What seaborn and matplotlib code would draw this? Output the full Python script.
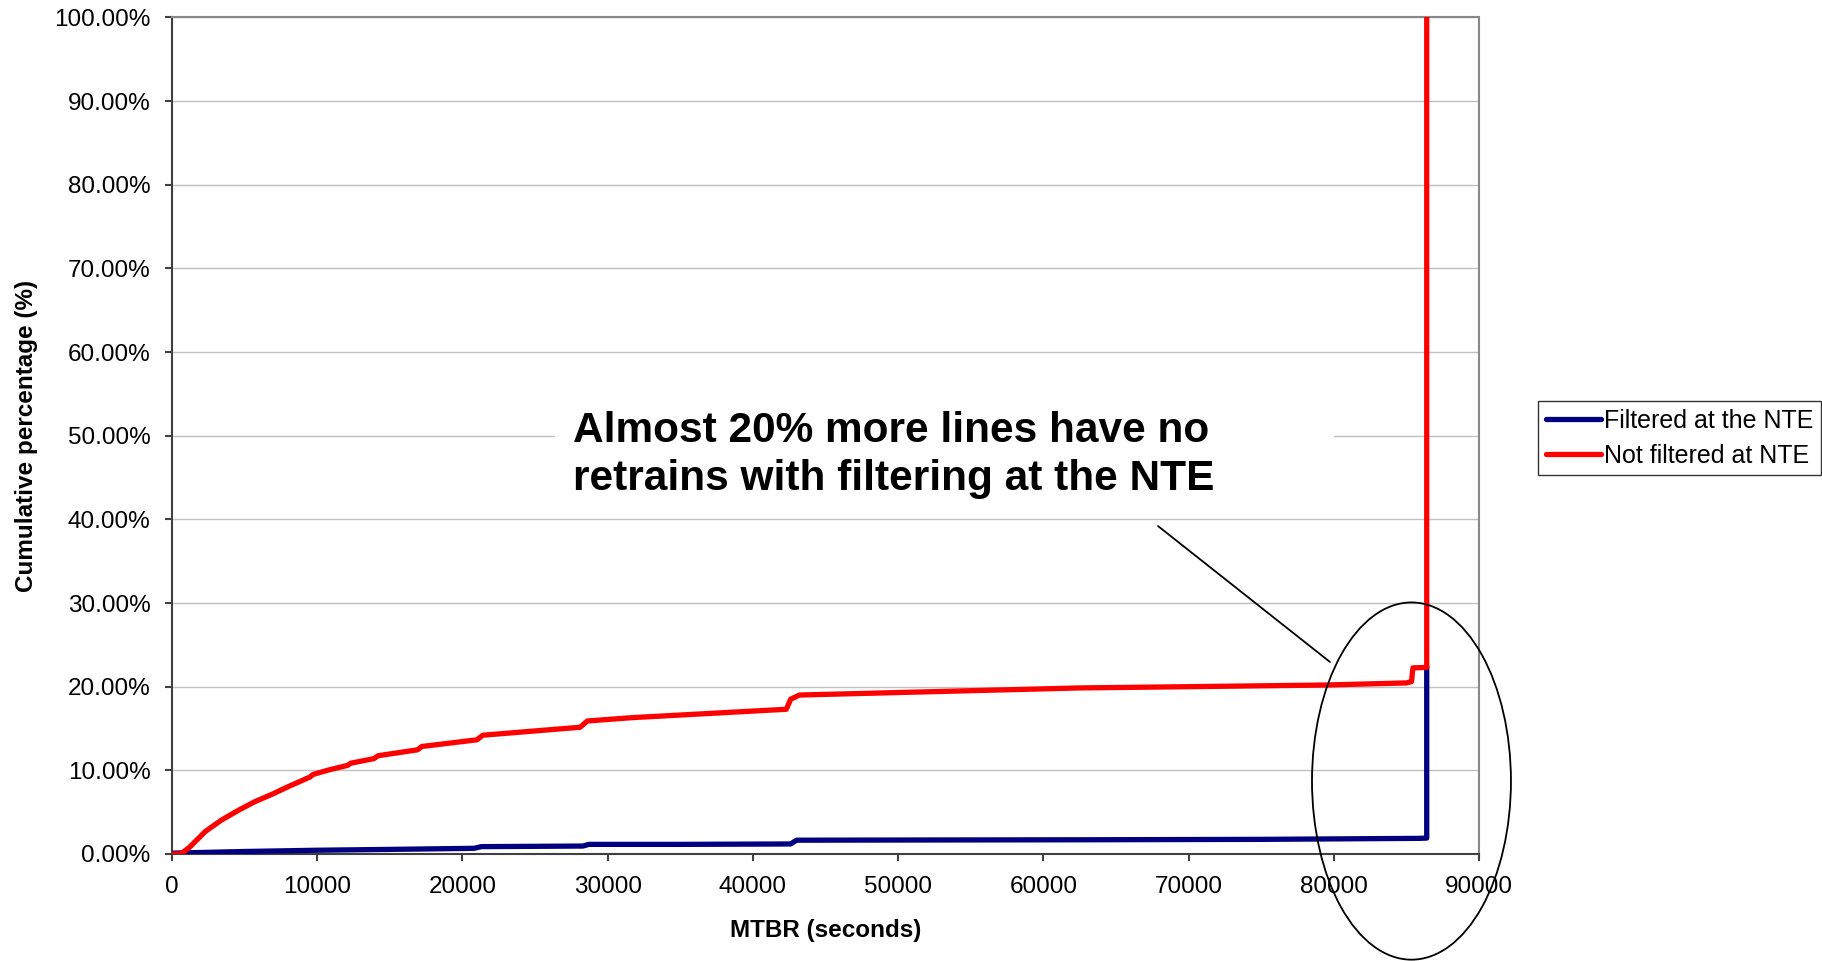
import matplotlib
matplotlib.use("Agg")
import matplotlib.pyplot as plt
from matplotlib.patches import Ellipse, Rectangle
import seaborn as sns
import pandas as pd

# Cumulative distribution of MTBR (seconds) for lines with / without NTE filtering
filtered_x = [0, 5000, 10000, 15000, 20800, 21300, 28300, 28700, 35000, 42600,
              43000, 50000, 62500, 75000, 85900, 86400, 86400]
filtered_pct = [0.1, 0.3, 0.45, 0.55, 0.68, 0.88, 0.95, 1.15, 1.15, 1.2,
                1.65, 1.67, 1.7, 1.75, 1.87, 1.9, 22.4]

unfiltered_x = [0, 600, 1200, 2300, 3400, 4600, 5700, 6900, 8000, 9500, 9700,
                10800, 12100, 12300, 13900, 14200, 16900, 17200, 21000, 21400,
                28100, 28600, 31700, 37000, 42300, 42600, 43200, 50000, 62500,
                70000, 79500, 85000, 85350, 85450, 86400, 86400]
unfiltered_pct = [0, 0, 0.8, 2.7, 4.05, 5.25, 6.25, 7.15, 8.05, 9.2, 9.5,
                  10.05, 10.6, 10.85, 11.4, 11.75, 12.45, 12.85, 13.65, 14.2,
                  15.15, 15.9, 16.3, 16.8, 17.3, 18.5, 19.0, 19.3, 19.85,
                  20.0, 20.2, 20.45, 20.6, 22.25, 22.3, 100]

series_names = ["Filtered at the NTE", "Not filtered at NTE"]
series_colors = ["#000080", "#ff0000"]

x_ticks = [0, 10000, 20000, 30000, 40000, 50000, 60000, 70000, 80000, 90000]
y_ticks = [0, 10, 20, 30, 40, 50, 60, 70, 80, 90, 100]

note_text = "Almost 20% more lines have no\nretrains with filtering at the NTE"

df = pd.concat([
    pd.DataFrame({"MTBR": filtered_x, "pct": filtered_pct, "series": series_names[0]}),
    pd.DataFrame({"MTBR": unfiltered_x, "pct": unfiltered_pct, "series": series_names[1]}),
], ignore_index=True)

sns.set_style("white")
plt.rcParams["font.family"] = ["Liberation Sans", "DejaVu Sans"]
plt.rcParams["text.color"] = "black"
plt.rcParams["axes.labelcolor"] = "black"
plt.rcParams["xtick.color"] = "black"
plt.rcParams["ytick.color"] = "black"

W, H = 1822, 961
fig = plt.figure(figsize=(W / 100, H / 100), dpi=100)
ax = fig.add_axes([172 / W, 1 - 854 / H, (1479 - 172) / W, (854 - 17.4) / H])

sns.lineplot(data=df, x="MTBR", y="pct", hue="series", hue_order=series_names,
             palette=series_colors, estimator=None, sort=False, linewidth=3.8,
             ax=ax, zorder=3)

ax.set_xlim(0, 90000)
ax.set_ylim(0, 100)
ax.set_xticks(x_ticks)
ax.set_xticklabels([str(v) for v in x_ticks], fontsize=17.5)
ax.set_yticks(y_ticks)
ax.set_yticklabels([f"{v:.2f}%" for v in y_ticks], fontsize=17.5)
ax.tick_params(direction="out", length=5, width=1.5, color="#404040", pad=10.5,
               labelcolor="black", bottom=True, left=True)

ax.set_axisbelow(True)
ax.yaxis.grid(True, color="#c0c0c0", linewidth=1.0)
ax.xaxis.grid(False)
for side in ["left", "bottom"]:
    ax.spines[side].set_color("#404040")
    ax.spines[side].set_linewidth(1.5)
for side in ["top", "right"]:
    ax.spines[side].set_color("#888888")
    ax.spines[side].set_linewidth(1.5)

ax.set_xlabel("MTBR (seconds)", fontsize=17.5, fontweight="bold", color="black")
ax.set_ylabel("Cumulative percentage (%)", fontsize=17.5, fontweight="bold",
              color="black")
ax.xaxis.set_label_coords(0.5, -0.078)
ax.yaxis.set_label_coords(-0.1025, 0.5)

# white panel behind the note
ax.add_patch(Rectangle((555 / W, 1 - 515 / H), (1334 - 555) / W, 120 / H,
                       transform=fig.transFigure, facecolor="white",
                       edgecolor="none", zorder=1))
fig.text(573 / W, 1 - 411 / H, note_text, fontsize=30.5, fontweight="bold",
         color="black", ha="left", va="top", linespacing=1.27, zorder=5)

# pointer line and ellipse around the one-day jump
ax.annotate("", xy=(79740, 22.95), xytext=(67897, 39.2),
            arrowprops=dict(arrowstyle="-", color="black", lw=1.3,
                            shrinkA=0, shrinkB=0))
ax.add_patch(Ellipse((85350, 8.72), 13700, 42.7, fill=False, edgecolor="black",
                     linewidth=1.3, clip_on=False, zorder=4))

leg = ax.legend(loc="upper left", bbox_to_anchor=(1538 / W, 1 - 401 / H),
                bbox_transform=fig.transFigure, fontsize=18, frameon=True,
                fancybox=False, edgecolor="black", handlelength=2.2,
                handletextpad=0.15, borderpad=0.3, labelspacing=0.45,
                borderaxespad=0)
leg.get_frame().set_linewidth(1.0)
for line in leg.get_lines():
    line.set_linewidth(3.8)
for t in leg.get_texts():
    t.set_color("black")

fig.savefig("out.png", dpi=100)
